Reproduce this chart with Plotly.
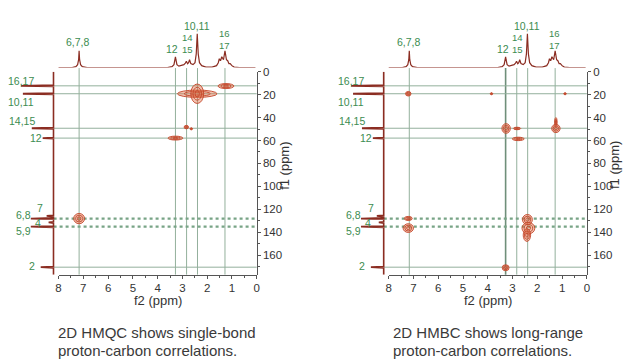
import plotly.graph_objects as go

# ---------------- data ----------------
f2_ticks = [8, 7, 6, 5, 4, 3, 2, 1, 0]
f1_ticks = [0, 20, 40, 60, 80, 100, 120, 140, 160]

# 1D proton spectrum (top trace), ppm and relative intensity
spec_ppm = [8.05, 7.45, 7.30, 7.23, 7.19, 7.17, 7.15, 7.11, 7.04, 6.85,
            3.60, 3.42, 3.34, 3.30, 3.28, 3.26, 3.22, 3.14, 3.04, 2.94,
            2.88, 2.84, 2.79, 2.75, 2.71, 2.66, 2.57, 2.49, 2.44, 2.40,
            2.36, 2.31, 2.22, 2.05, 1.80, 1.62, 1.55, 1.51, 1.46, 1.41,
            1.34, 1.28, 1.22, 1.17, 1.12, 1.07, 1.00, 0.91, 0.70, 0.05]
spec_int = [0, 0, 1, 3, 8, 17, 8, 3, 1, 0,
            0, 1, 3, 8, 11, 8, 3, 1.5, 2, 3,
            4.5, 6.5, 4, 5, 8, 4, 3, 5, 14, 34.5,
            14, 5, 2, 0.5, 0.5, 2, 5, 9, 7, 11,
            8, 17, 8, 7, 4, 4, 2, 0.5, 0, 0]

# 1D carbon projection (left trace): peak shifts and intensities
proj_ppm = [12.3, 19.2, 49.3, 57.9, 125.8, 128.1, 131.5, 135.2, 170.5]
proj_int = [33, 31, 22, 11, 7, 23, 5, 23, 13]

# guide lines
h_guides = [7.17, 3.28, 2.83, 2.39, 1.28]
c_guides = [12.3, 19.2, 49.3, 57.9, 170.5]
c_guides_dotted = [128.1, 135.2]

# labels
top_labels = ["6,7,8", "12", "14<br>15", "10,11", "16<br>17"]
top_label_ppm = [7.20, 3.40, 2.81, 2.42, 1.30]
left_labels = ["16,17", "10,11", "14,15", "12", "7", "6,8", "4", "5,9", "2"]

# cross peaks: f2 (ppm), f1 (ppm), half-width f2, half-width f1
hmqc_x = [2.40, 2.40, 1.24, 2.84, 2.64, 3.28, 7.17]
hmqc_y = [19.2, 19.2, 12.5, 48.3, 49.8, 57.9, 128.1]
hmqc_rx = [0.80, 0.26, 0.32, 0.09, 0.05, 0.30, 0.22]
hmqc_ry = [3.2, 8.5, 2.2, 1.5, 0.9, 1.7, 4.5]

hmbc_x = [7.21, 3.85, 0.88, 3.26, 2.82, 2.77, 1.25, 1.25, 7.21, 7.21, 2.40, 2.36, 2.42, 3.28]
hmbc_y = [19.2, 19.2, 19.2, 49.5, 49.5, 58.6, 49.5, 44.0, 128.0, 136.4, 129.0, 136.5, 142.5, 171.0]
hmbc_rx = [0.11, 0.05, 0.05, 0.17, 0.15, 0.24, 0.17, 0.05, 0.16, 0.21, 0.20, 0.26, 0.15, 0.14]
hmbc_ry = [2.0, 0.9, 0.9, 4.2, 1.1, 1.5, 3.6, 4.0, 1.8, 3.8, 4.5, 5.0, 5.5, 2.6]

captions = [["2D HMQC shows single-bond", "proton-carbon correlations."],
            ["2D HMBC shows long-range", "proton-carbon correlations."]]

# ---------------- styling ----------------
W, H = 640, 364
OFF = 8  # page body margin compensation
def px(x):
    return (x - OFF) / W
def py(y):
    return 1 - (y - OFF) / H

FONT = "Liberation Sans, Arial, sans-serif"
GREEN = "#3c8c50"
GUIDE = "#93b09c"
SPEC = "#8b2d22"
CONT = "#c4472b"
CONT_FILL = "rgba(226,120,80,0.45)"
AX = "#555555"
TXT = "#333333"

fig = go.Figure()
layout = dict(width=W, height=H, margin=dict(l=0, r=0, t=0, b=0),
              paper_bgcolor="white", plot_bgcolor="white", showlegend=False)
shapes = []
annotations = []

left_lab_x = [18, 18, 19, 33, 37.7, 20.7, 35, 20.7, 29.3]
left_lab_y = [76, 97, 117, 134, 205.7, 212.3, 220.7, 229, 264]
top_lab_y = [36.7, 43.3, 38.5, 20, 33.5]
top_lab_size = [10.5, 10.5, 9.5, 10.5, 9.5]

peaks = [(hmqc_x, hmqc_y, hmqc_rx, hmqc_ry), (hmbc_x, hmbc_y, hmbc_rx, hmbc_ry)]

for p in range(2):
    dx = 0 if p == 0 else 333.3
    n = 2 * p
    xm = "x" if n == 0 else f"x{n+1}"      # main x
    ym = "y" if n == 0 else f"y{n+1}"      # main y
    xp = f"x{n+2}"                          # projection x
    yt = f"y{n+2}"                          # top spectrum y
    kx = "xaxis" if n == 0 else f"xaxis{n+1}"
    ky = "yaxis" if n == 0 else f"yaxis{n+1}"

    layout[kx] = dict(domain=[px(56 + dx), px(256 + dx)], range=[8, 0], anchor=ym,
                      showgrid=False, zeroline=False, showline=True, linecolor=AX,
                      linewidth=1, ticks="outside", ticklen=3, tickcolor=AX,
                      tickvals=f2_ticks, ticktext=[str(v) for v in f2_ticks],
                      tickfont=dict(family=FONT, size=11.5, color=TXT),
                      minor=dict(dtick=0.5, tick0=0, ticks="outside", ticklen=2, tickcolor=AX))
    layout[ky] = dict(domain=[py(273), py(66.7)], range=[177, 0], anchor=xm, side="right",
                      showgrid=False, zeroline=False, showline=True, linecolor=AX,
                      linewidth=1, ticks="outside", ticklen=3, tickcolor=AX,
                      tickvals=f1_ticks, ticktext=[str(v) for v in f1_ticks],
                      tickfont=dict(family=FONT, size=11.5, color=TXT),
                      minor=dict(dtick=10, tick0=0, ticks="outside", ticklen=2.5, tickcolor=AX))
    layout["xaxis" + str(n + 2)] = dict(domain=[px(11 + dx), px(52 + dx)], range=[40, -1],
                                        anchor=ym, visible=False)
    layout["yaxis" + str(n + 2)] = dict(domain=[py(62.5), py(18)], range=[0, 44.5],
                                        anchor=xm, visible=False)

    # top 1D spectrum
    fig.add_trace(go.Scatter(x=spec_ppm, y=spec_int, xaxis=xm, yaxis=yt, mode="lines",
                             line=dict(color=SPEC, width=1.2), hoverinfo="skip"))
    # left projection built from the peak list
    pj_y, pj_x = [0], [0]
    for c, h in zip(proj_ppm, proj_int):
        pj_y += [c - 0.5, c, c + 0.5]
        pj_x += [0, h, 0]
    pj_y.append(177)
    pj_x.append(0)
    fig.add_trace(go.Scatter(x=pj_x, y=pj_y, xaxis=xp, yaxis=ym, mode="lines",
                             line=dict(color=SPEC, width=1.8), hoverinfo="skip"))

    # guide lines
    for i, g in enumerate(h_guides):
        strong = (p == 1 and i == 1)
        shapes.append(dict(type="line", xref=xm, yref="paper", x0=g, x1=g,
                           y0=py(273), y1=py(63), layer="below",
                           line=dict(color="#6f8f7a" if strong else GUIDE,
                                     width=1.6 if strong else 1)))
    for g in c_guides:
        shapes.append(dict(type="line", xref="paper", yref=ym, x0=px(51 + dx), x1=px(256 + dx),
                           y0=g, y1=g, layer="below", line=dict(color=GUIDE, width=1)))
    for g in c_guides_dotted:
        shapes.append(dict(type="line", xref="paper", yref=ym, x0=px(51 + dx), x1=px(256 + dx),
                           y0=g, y1=g, layer="below",
                           line=dict(color="#78a486", width=2.2, dash="dot")))

    # cross peaks as nested contour ellipses
    cx, cy, rx, ry = peaks[p]
    for a, b, r1, r2 in zip(cx, cy, rx, ry):
        for k, s in enumerate([1.0, 0.66, 0.33]):
            shapes.append(dict(type="circle", xref=xm, yref=ym,
                               x0=a - r1 * s, x1=a + r1 * s, y0=b - r2 * s, y1=b + r2 * s,
                               fillcolor=CONT_FILL if k == 0 else "rgba(0,0,0,0)",
                               line=dict(color=CONT, width=0.9), layer="above"))

    # labels
    for t, xv, yv, fs in zip(top_labels, top_label_ppm, top_lab_y, top_lab_size):
        annotations.append(dict(text=t, xref=xm, yref="paper", x=xv, y=py(yv),
                                showarrow=False, xanchor="center", yanchor="middle",
                                font=dict(family=FONT, size=fs, color=GREEN)))
    for t, xv, yv in zip(left_labels, left_lab_x, left_lab_y):
        annotations.append(dict(text=t, xref="paper", yref="paper", x=px(xv + dx), y=py(yv),
                                showarrow=False, xanchor="center", yanchor="middle",
                                font=dict(family=FONT, size=10.5, color=GREEN)))
    # axis titles
    annotations.append(dict(text="f2 (ppm)", xref="paper", yref="paper", x=px(156 + dx), y=py(299),
                            showarrow=False, xanchor="center", yanchor="middle",
                            font=dict(family=FONT, size=13, color=TXT)))
    annotations.append(dict(text="f1 (ppm)", xref="paper", yref="paper", x=px(284 + dx), y=py(162),
                            showarrow=False, xanchor="center", yanchor="middle", textangle=-90,
                            font=dict(family=FONT, size=13, color=TXT)))
    # captions
    for i, line in enumerate(captions[p]):
        annotations.append(dict(text=line, xref="paper", yref="paper",
                                x=px(53.3 + (338.4 if p else 0)), y=py(331.7 + 18.5 * i),
                                showarrow=False, xanchor="left", yanchor="middle",
                                font=dict(family=FONT, size=15, color="#3a3a3a")))

layout["shapes"] = shapes
layout["annotations"] = annotations
fig.update_layout(**layout)
fig.write_html("out.html")
